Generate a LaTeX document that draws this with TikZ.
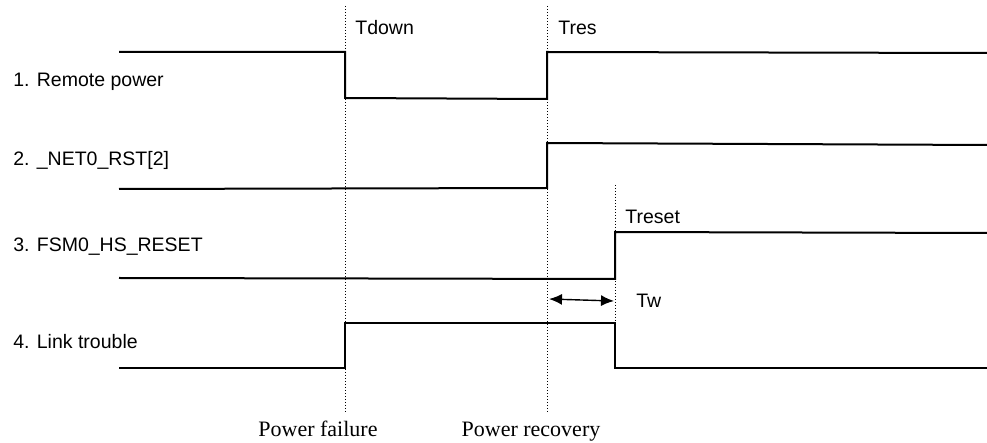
\documentclass[tikz,border=0pt]{standalone}
\usepackage{fontspec}
\setmainfont{Liberation Serif}
\setsansfont{Liberation Sans}
\usetikzlibrary{arrows.meta, positioning}

\begin{document}
\begin{tikzpicture}[x=0.5pt, y=-0.5pt,
  font=\sffamily\fontsize{9.75}{11}\selectfont,
  % Signal waveform
  wave/.style={line width=1pt, line join=miter},
  % Event marker = thin dotted vertical line
  marker/.style={densely dotted, line width=0.5pt},
  % Signal names and time labels
  sig/.style={anchor=west, inner sep=0pt},
  % Event names below the markers (serif)
  event/.style={font=\rmfamily\fontsize{11}{13}\selectfont, inner sep=0pt, anchor=base},
  arrow/.style={<->, >={Latex[length=6.5pt, width=5.5pt]}, line width=0.7pt}
]
\useasboundingbox (0,0) rectangle (987,443);

% ---- Event markers ----
\coordinate (pfTop) at (345,6);
\coordinate (pfBot) at (345,412);
\coordinate (prTop) at (547,6);
\coordinate (prBot) at (547,412);
\coordinate (rsTop) at (615,185);
\coordinate (rsBot) at (615,322);
\draw[marker] (pfTop) -- (pfBot);
\draw[marker] (prTop) -- (prBot);
\draw[marker] (rsTop) -- (rsBot);

% ---- Signal names (Left) ----
\node[sig] (s1) at (13,82) {1. Remote power};
\node[sig] (s2) at (13,160) {2. \_NET0\_RST[2]};
\node[sig] (s3) at (13,247) {3. FSM0\_HS\_RESET};
\node[sig] (s4) at (13,342) {4. Link trouble};

% ---- Waveforms ----
\draw[wave] (119,52) -- (345,52) -- (345,98) -- (547,99) -- (547,52) -- (987,53);
\draw[wave] (119,189) -- (547,188) -- (547,143) -- (987,145);
\draw[wave] (119,278) -- (615,279) -- (615,232) -- (987,233);
\draw[wave] (119,368) -- (345,368) -- (345,323) -- (615,323) -- (615,368) -- (987,368);

% ---- Time labels ----
\node[sig] (tdown) at (355,28) {Tdown};
\node[sig] (tres) at (558,28) {Tres};
\node[sig] (treset) at (625,217) {Treset};

% ---- Wait interval ----
\coordinate (twL) at (549,299);
\coordinate (twR) at (614,301);
\draw[arrow] (twL) -- (twR);
\node[sig, right=11pt of twR.center] (tw) {Tw};

% ---- Events (Bottom) ----
\node[event] (pf) at (318,437) {Power failure};
\node[event] (pr) at (531,437) {Power recovery};

\end{tikzpicture}
\end{document}
